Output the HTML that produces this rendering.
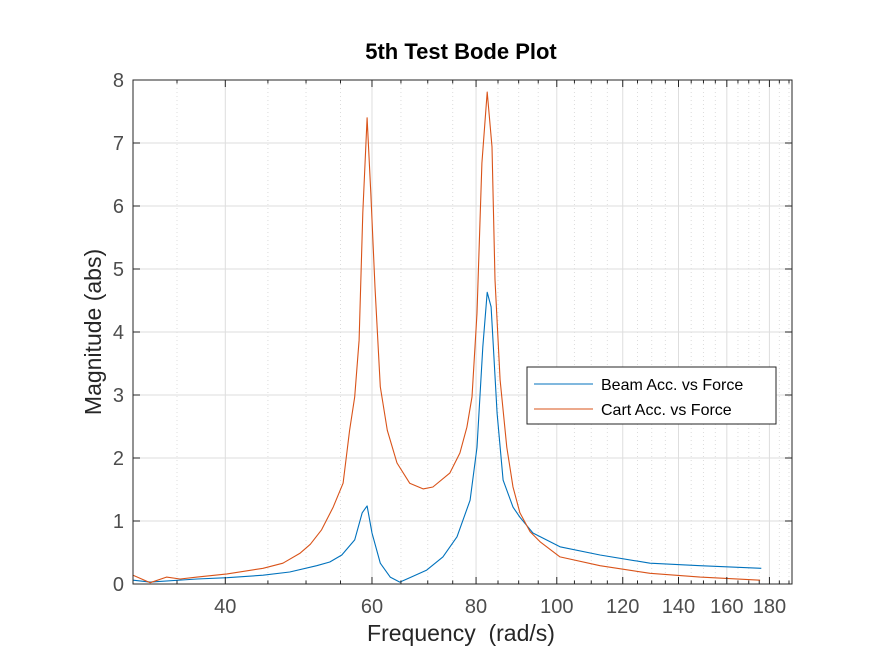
<!DOCTYPE html>
<html><head><meta charset="utf-8"><style>
html,body{margin:0;padding:0;background:#fff;}
svg{display:block;font-family:"Liberation Sans",Arial,sans-serif;}
</style></head><body>
<svg id="chart" width="875" height="656" viewBox="0 0 875 656" xmlns="http://www.w3.org/2000/svg">
<rect x="0" y="0" width="875" height="656" fill="#fff"/>
<rect x="133" y="80" width="659" height="504" fill="#fff"/>
<g id="grid"></g><g id="series"></g><g id="axes"></g>
<text x="461" y="59" text-anchor="middle" font-size="22" font-weight="bold" fill="#000">5th Test Bode Plot</text>
<text x="461" y="641" text-anchor="middle" font-size="23" fill="#262626" xml:space="preserve">Frequency  (rad/s)</text>
<text transform="translate(101,332) rotate(-90)" text-anchor="middle" font-size="23" fill="#262626">Magnitude (abs)</text>
<g>
<rect x="527" y="367" width="249" height="57" fill="#fff" stroke="#262626" stroke-width="1"/>
<line x1="534" y1="384" x2="593" y2="384" stroke="#0072BD" stroke-width="1"/>
<text x="601" y="390" font-size="16" fill="#000">Beam Acc. vs Force</text>
<line x1="534" y1="409" x2="593" y2="409" stroke="#D95319" stroke-width="1"/>
<text x="601" y="415" font-size="16" fill="#000">Cart Acc. vs Force</text>
</g>
</svg>
<script>
const beamFreq=[31.0,32.5,37.0,40.2,44.4,47.8,51.5,53.4,55.2,57.2,58.4,59.2,60.0,61.4,63.1,64.8,66.6,69.8,73.0,75.9,78.7,80.2,81.5,82.5,83.4,84.8,86.2,88.6,90.3,93.6,100.9,112.7,129.4,148.6,176];
const beamMag=[0.06,0.03,0.08,0.10,0.14,0.19,0.29,0.35,0.46,0.70,1.13,1.24,0.81,0.33,0.11,0.03,0.10,0.22,0.43,0.75,1.33,2.17,3.76,4.63,4.40,2.71,1.65,1.22,1.06,0.81,0.59,0.46,0.33,0.29,0.25];
const cartFreq=[31.0,32.5,34.0,35.3,37.0,40.2,44.4,46.9,49.2,50.6,52.2,53.9,55.4,56.4,57.2,57.9,58.5,59.2,59.8,60.5,61.4,62.6,64.3,66.6,69.1,71.0,74.4,76.5,78.0,79.1,80.2,81.3,82.5,83.6,84.3,85.5,87.1,88.6,90.3,92.9,95.5,100.9,112.7,129.4,148.6,175.4];
const cartMag=[0.14,0.02,0.11,0.08,0.11,0.16,0.25,0.33,0.49,0.63,0.86,1.22,1.60,2.44,2.97,3.87,5.89,7.40,6.21,4.71,3.13,2.44,1.92,1.60,1.51,1.54,1.76,2.08,2.49,2.97,4.30,6.68,7.81,6.94,4.83,3.24,2.17,1.54,1.13,0.83,0.67,0.43,0.29,0.17,0.11,0.06];
const xTicks=[40,60,80,100,120,140,160,180];
const xMinor=[35,45,50,55,65,70,75,85,90,95,105,110,115,125,130,135,145,150,155,165,170,175,185,190];
const yTicks=[0,1,2,3,4,5,6,7,8];

const L=133,R=792,T=80,B=584;
function X(f){return 225.3+833*Math.log10(f/40);}
function Y(v){return B-(v/8)*(B-T);}
const NS='http://www.w3.org/2000/svg';
function mk(tag,parent,attrs){const e=document.createElementNS(NS,tag);for(const k in attrs)e.setAttribute(k,attrs[k]);parent.appendChild(e);return e;}
const grid=document.getElementById('grid'),axes=document.getElementById('axes'),series=document.getElementById('series');

xMinor.forEach(f=>{const x=X(f);if(x<=L||x>=R)return;
 const g=mk('line',grid,{x1:x,y1:T,x2:x,y2:B,stroke:'#dcdcdc','stroke-dasharray':'1,3','stroke-width':1});
 
 
 const t=mk('line',axes,{x1:x,y1:B,x2:x,y2:B-3.5,stroke:'#262626','stroke-width':1});
 
 
 const t2=mk('line',axes,{x1:x,y1:T,x2:x,y2:T+3.5,stroke:'#262626','stroke-width':1});
 
 
});
xTicks.forEach(f=>{const x=X(f);
 const g=mk('line',grid,{x1:x,y1:T,x2:x,y2:B,stroke:'#dedede','stroke-width':1});
 
 
 const t=mk('line',axes,{x1:x,y1:B,x2:x,y2:B-7,stroke:'#262626','stroke-width':1});
 
 
 const t2=mk('line',axes,{x1:x,y1:T,x2:x,y2:T+7,stroke:'#262626','stroke-width':1});
 
 
 const lb=mk('text',axes,{x:x,y:613,'text-anchor':'middle','font-size':20,fill:'#4d4d4d'});
 lb.textContent=f;
 
 
});
yTicks.forEach(v=>{const y=Y(v);
 const g=mk('line',grid,{x1:L,y1:y,x2:R,y2:y,stroke:'#dedede','stroke-width':1});
 
 
 const t=mk('line',axes,{x1:L,y1:y,x2:L+7,y2:y,stroke:'#262626','stroke-width':1});
 
 
 const t2=mk('line',axes,{x1:R,y1:y,x2:R-7,y2:y,stroke:'#262626','stroke-width':1});
 
 
 const lb=mk('text',axes,{x:124,y:y+7,'text-anchor':'end','font-size':20,fill:'#4d4d4d'});
 lb.textContent=v;
 
 
});
const box=mk('rect',axes,{x:L,y:T,width:R-L,height:B-T,fill:'none',stroke:'#262626','stroke-width':1});



function line(fr,mg,color,name){
 const d=fr.map((f,i)=>(i?'L':'M')+X(f).toFixed(1)+','+Y(mg[i]).toFixed(1)).join(' ');
 const p=mk('path',series,{d:d,fill:'none',stroke:color,'stroke-width':1.1,'stroke-linejoin':'round'});
 
 
}
line(beamFreq,beamMag,'#0072BD','beam-acc-line');
line(cartFreq,cartMag,'#D95319','cart-acc-line');
</script>
</body></html>
